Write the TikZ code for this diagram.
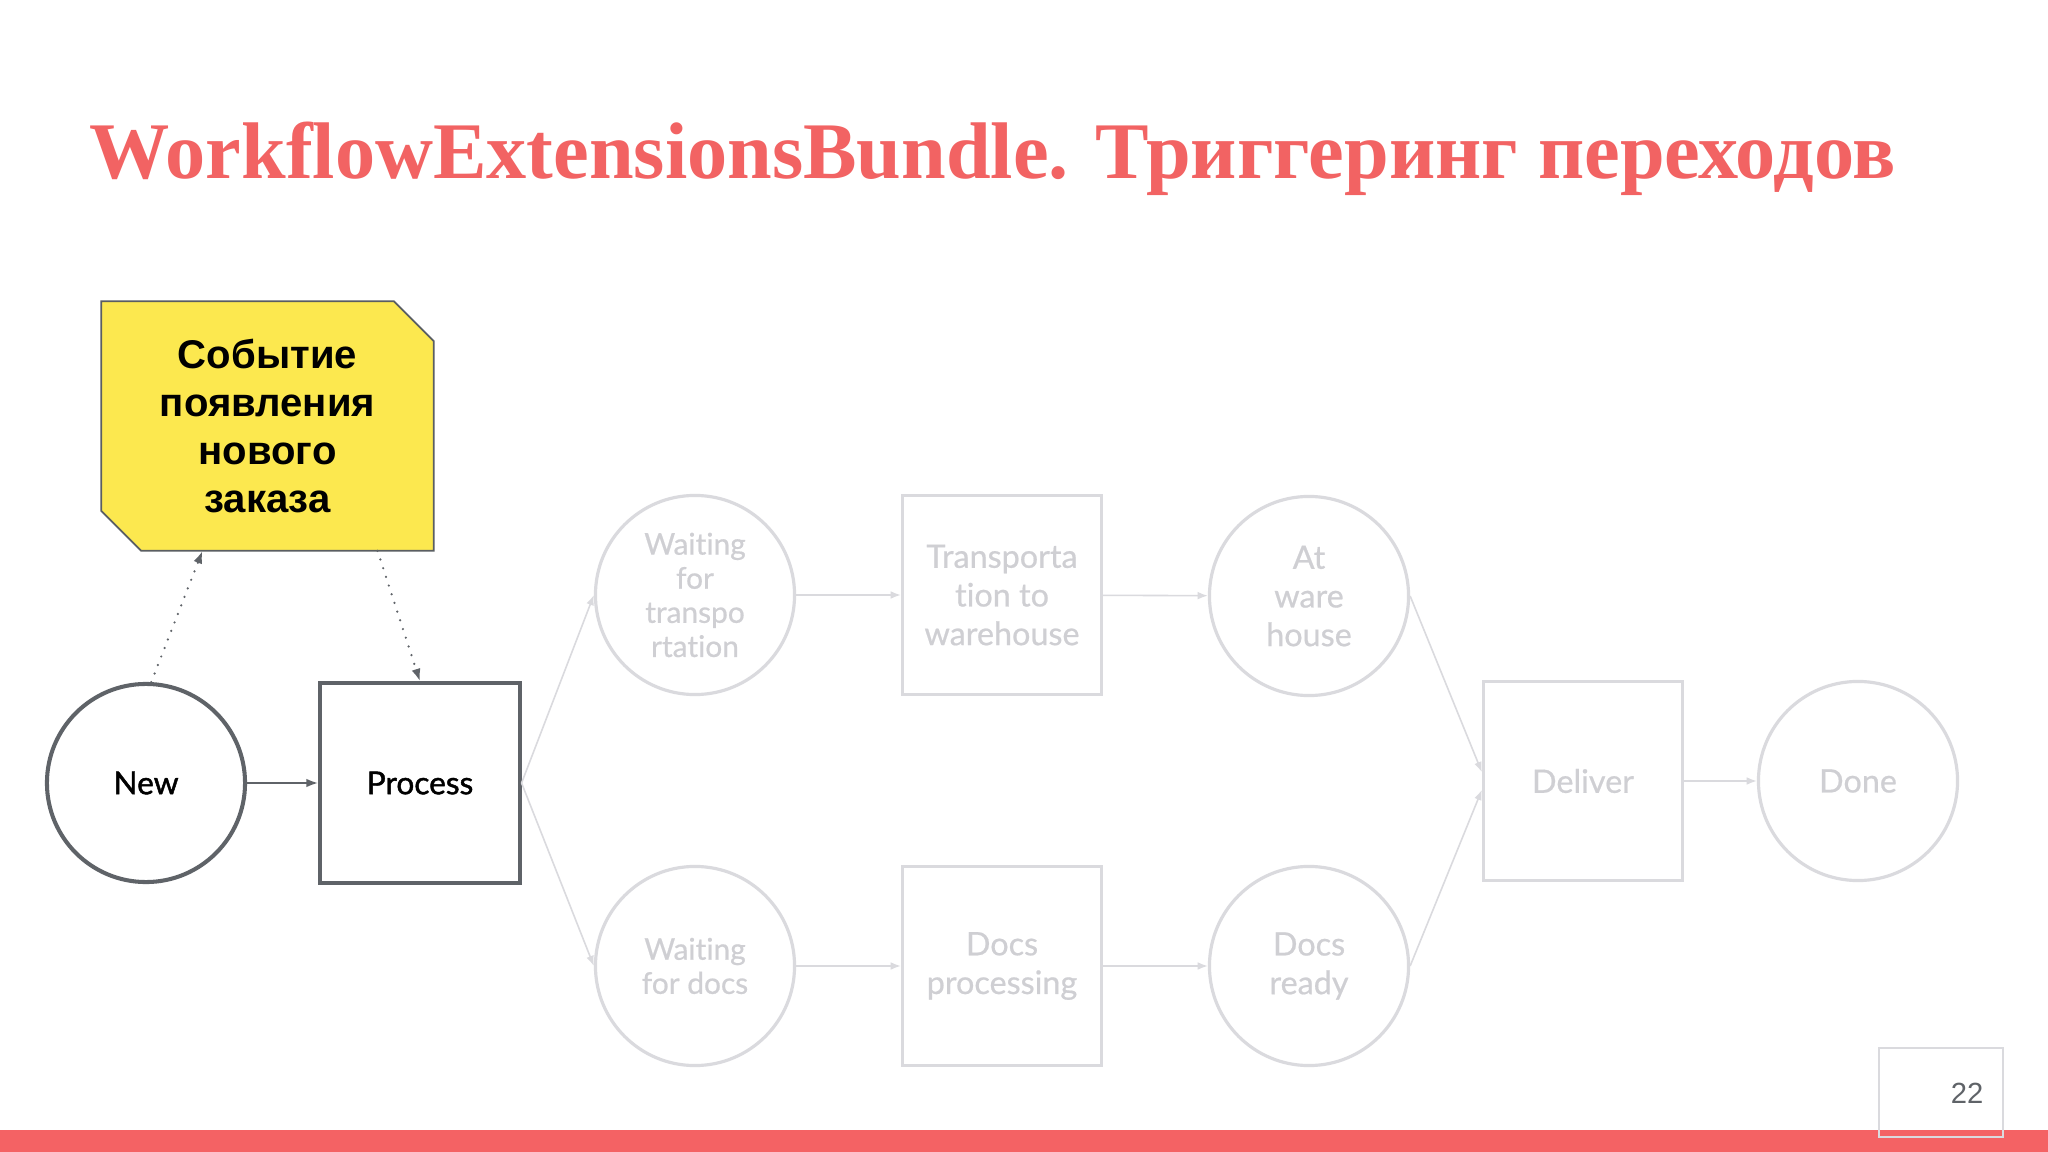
\documentclass[tikz,border=0pt]{standalone}
\usepackage{fontspec}
\setmainfont{Lato}[Ligatures=NoCommon]
\newfontfamily\darkfont{Lato}[FakeBold=1.4,Ligatures=NoCommon]
\newfontfamily\lightfont{Lato}[FakeBold=0.6,Ligatures=NoCommon]
\newfontfamily\titlefont{Liberation Serif}
\newfontfamily\notefont{Liberation Sans}
\usetikzlibrary{arrows.meta,calc,backgrounds}
\definecolor{titlered}{HTML}{F26363}
\definecolor{barred}{HTML}{F46264}
\definecolor{noteyellow}{HTML}{FCE84F}
\definecolor{darkgray}{HTML}{5F6368}
\definecolor{notegray}{HTML}{5A5E62}
\definecolor{lightline}{HTML}{DADADE}
\definecolor{lighttext}{HTML}{CFCFD3}
\begin{document}
\begin{tikzpicture}[x=0.01cm,y=-0.01cm,
  darkcirc/.style={circle, draw=darkgray, line width=1.15pt, minimum size=1.98cm, inner sep=0pt, font=\darkfont\fontsize{9}{10}\selectfont, text=black, align=center},
  darkbox/.style={rectangle, draw=darkgray, line width=1.15pt, minimum size=1.99cm, inner sep=0pt, font=\darkfont\fontsize{9}{10}\selectfont, text=black, align=center},
  lightcirc/.style={circle, draw=lightline, line width=0.9pt, minimum size=1.99cm, inner sep=0pt, font=\lightfont\fontsize{9.2}{11}\selectfont, text=lighttext, align=center},
  lightbox/.style={rectangle, draw=lightline, line width=0.9pt, minimum size=1.99cm, inner sep=0pt, font=\lightfont\fontsize{9.2}{11}\selectfont, text=lighttext, align=center},
  waitfont/.style={font=\lightfont\fontsize{8.5}{9.7}\selectfont},
  darkarrow/.style={draw=darkgray, line width=0.6pt, -{Latex[length=3.4pt,width=2.4pt]}},
  lightarrow/.style={draw=lightline, line width=0.45pt, -{Latex[length=2.9pt,width=2.2pt]}},
  dotarrow/.style={draw=darkgray, line width=0.7pt, line cap=round, dash pattern=on 0pt off 2.6pt, -{Latex[length=3.6pt,width=2.6pt]}}
]
\useasboundingbox (0,0) rectangle (2048,1152);

% title
\node[anchor=base west, inner sep=0pt, text=titlered] (title) at (89,179)
  {\resizebox{18.05cm}{!}{\titlefont\bfseries\fontsize{25}{30}\selectfont WorkflowExtensionsBundle. Триггеринг переходов}};

% note
\node[minimum width=3.31cm, minimum height=2.48cm, inner sep=0pt, align=center,
      font=\notefont\bfseries\fontsize{11.4}{13.6}\selectfont] (note) at (267.5,426) {Событие\\появления\\нового\\заказа};
\begin{pgfonlayer}{background}
\fill[white] (0,0) rectangle (2048,1152);
\draw[fill=noteyellow, draw=notegray, line width=0.5pt]
  (note.north west) -- ($(note.north east)+(-40,0)$) -- ($(note.north east)+(0,40)$)
  -- (note.south east) -- ($(note.south west)+(40,0)$) -- ($(note.south west)+(0,-40)$) -- cycle;
\end{pgfonlayer}

% states
\node[darkcirc] (new) at (146,783) {New};
\node[darkbox] (process) at (420,783) {Process};
\node[lightcirc, waitfont] (wt) at (695,595) {Waiting\\for\\transpo\\rtation};
\node[lightbox] (tr) at (1002,595) {Transporta\\tion to\\warehouse};
\node[lightcirc] (aw) at (1309,596) {At\\ware\\house};
\node[lightcirc, waitfont] (wd) at (695,966) {Waiting\\for docs};
\node[lightbox] (dp) at (1002,966) {Docs\\processing};
\node[lightcirc] (dr) at (1309,966) {Docs\\ready};
\node[lightbox] (deliver) at (1583,781) {Deliver};
\node[lightcirc] (done) at (1858,781) {Done};

% connectors
\draw[darkarrow] (new) -- (process);
\draw[dotarrow] (new.87) -- ($(note.south)+(-65,0)$);
\draw[dotarrow] ($(note.south)+(110,0)$) -- (process.north);
\draw[lightarrow] (process.east) -- (wt.west);
\draw[lightarrow] (process.east) -- (wd.west);
\draw[lightarrow] (wt) -- (tr);
\draw[lightarrow] (tr) -- (aw);
\draw[lightarrow] (wd) -- (dp);
\draw[lightarrow] (dp) -- (dr);
\draw[lightarrow] (aw.east) -- (deliver.175);
\draw[lightarrow] (dr.east) -- (deliver.185);
\draw[lightarrow] (deliver) -- (done);

% footer
\fill[barred] (0,1130) rectangle (2048,1152);
\node[draw=lightline, line width=0.6pt, minimum width=1.24cm, minimum height=0.89cm, inner sep=0pt] (pagebox) at (1941,1092.5) {};
\node[font=\notefont\fontsize{8.3}{10}\selectfont, text=darkgray, inner sep=0pt] (pagenum) at (1967,1093) {22};
\end{tikzpicture}
\end{document}
